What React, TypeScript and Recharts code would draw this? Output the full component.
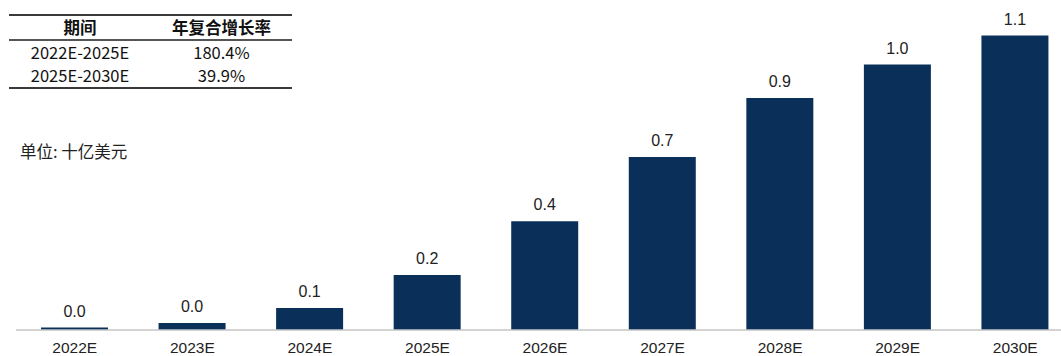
import { BarChart, Bar, XAxis, YAxis, LabelList } from "recharts"

const years = ["2022E", "2023E", "2024E", "2025E", "2026E", "2027E", "2028E", "2029E", "2030E"]
const marketSize = [0.0094, 0.026, 0.083, 0.207, 0.41, 0.652, 0.874, 1.0, 1.109]

const cagrPeriods = ["2022E-2025E", "2025E-2030E"]
const cagrValues = ["180.4%", "39.9%"]

const chartData = years.map((year, i) => ({ year, value: marketSize[i] }))

const FONT = '"Liberation Sans", Arial, "Noto Sans CJK SC", sans-serif'
const CJK_FONT = '"Noto Sans CJK SC", "Noto Sans", sans-serif'
const BAR_COLOR = "#0a3059"

function CagrTable() {
  const cell: React.CSSProperties = { textAlign: "center", padding: 0, height: 23, lineHeight: "23px" }
  return (
    <table
      style={{
        position: "absolute",
        left: 9,
        top: 14,
        width: 283,
        borderCollapse: "collapse",
        fontFamily: CJK_FONT,
        fontSize: 16.5,
        color: "#111",
        borderTop: "2px solid #3a3a3a",
        borderBottom: "2px solid #3a3a3a",
      }}
    >
      <thead>
        <tr>
          <th style={{ ...cell, width: 142, borderBottom: "2px solid #555", fontWeight: 700 }}>期间</th>
          <th style={{ ...cell, borderBottom: "2px solid #555", fontWeight: 700 }}>年复合增长率</th>
        </tr>
      </thead>
      <tbody>
        {cagrPeriods.map((p, i) => (
          <tr key={p}>
            <td style={cell}>{p}</td>
            <td style={cell}>{cagrValues[i]}</td>
          </tr>
        ))}
      </tbody>
    </table>
  )
}

export default function App() {
  return (
    <div
      style={{
        position: "fixed",
        left: 0,
        top: 0,
        width: 1061,
        height: 356,
        overflow: "hidden",
        background: "#fff",
      }}
    >
      <BarChart
        width={1074}
        height={356}
        data={chartData}
        margin={{ top: 11.4, right: 0, bottom: 0, left: 16 }}
        barCategoryGap={0}
      >
        <XAxis
          dataKey="year"
          height={26}
          tickLine={false}
          axisLine={{ stroke: "#c4c4c4", strokeWidth: 1.5 }}
          tick={{ fontSize: 15.5, fill: "#222", fontFamily: FONT }}
          interval={0}
          tickMargin={6}
        />
        <YAxis hide domain={[0, 1.2]} />
        <Bar dataKey="value" fill={BAR_COLOR} barSize={67} isAnimationActive={false}>
          <LabelList
            dataKey="value"
            position="top"
            offset={11}
            formatter={(v: any) => Number(v).toFixed(1)}
            style={{ fontSize: 16, fill: "#222", fontFamily: FONT }}
          />
        </Bar>
      </BarChart>
      <CagrTable />
      <div
        style={{
          position: "absolute",
          left: 20,
          top: 139,
          fontFamily: CJK_FONT,
          fontSize: 16.5,
          lineHeight: "24px",
          color: "#222",
          whiteSpace: "nowrap",
        }}
      >
        单位: 十亿美元
      </div>
    </div>
  )
}
